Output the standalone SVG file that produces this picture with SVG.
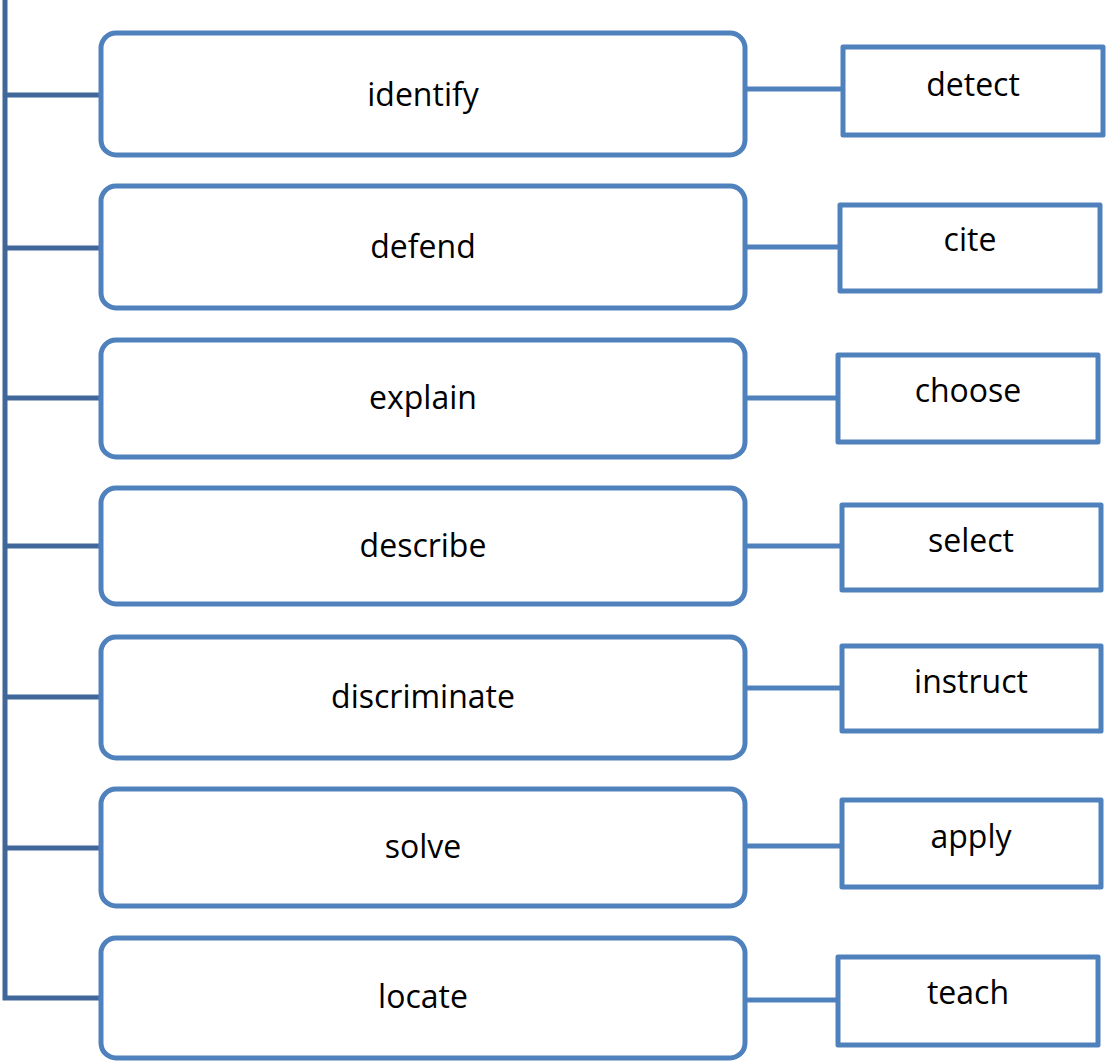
<svg xmlns="http://www.w3.org/2000/svg" width="1106" height="1061" viewBox="0 0 1106 1061">
  <style>
    .main { fill: #ffffff; stroke: #4f81bd; stroke-width: 5; }
    .leaf { fill: #ffffff; stroke: #4f81bd; stroke-width: 5; stroke-linejoin: round; }
    .trunk { fill: none; stroke: #41679a; stroke-width: 5; }
    .link { fill: none; stroke: #4f81bd; stroke-width: 5; }
    text { font-family: "Open Sans", "Liberation Sans", sans-serif; font-size: 32px; fill: #000000; text-anchor: middle; }
  </style>
  <rect width="1106" height="1061" fill="#ffffff"/>

  <!-- trunk and branches -->
  <g id="connectors">
    <path class="trunk" d="M5 0 V998 H101"/>
    <path class="trunk" d="M5 95 H101 M5 248 H101 M5 398 H101 M5 546 H101 M5 697 H101 M5 848 H101"/>
    <path class="link" d="M745 89 H843 M745 247 H840 M745 398 H838 M745 546 H842 M745 688 H842 M745 846 H842 M745 1000 H838"/>
  </g>

  <g id="identify"><rect class="main" x="101" y="33" width="644" height="122" rx="15"/><text x="423" y="106">identify</text></g>
  <g id="defend"><rect class="main" x="101" y="186" width="644" height="122" rx="15"/><text x="423" y="258">defend</text></g>
  <g id="explain"><rect class="main" x="101" y="340" width="644" height="117" rx="15"/><text x="423" y="409">explain</text></g>
  <g id="describe"><rect class="main" x="101" y="488" width="644" height="116" rx="15"/><text x="423" y="557">describe</text></g>
  <g id="discriminate"><rect class="main" x="101" y="637" width="644" height="121" rx="15"/><text x="423" y="708">discriminate</text></g>
  <g id="solve"><rect class="main" x="101" y="789" width="644" height="117" rx="15"/><text x="423" y="858">solve</text></g>
  <g id="locate"><rect class="main" x="101" y="938" width="644" height="120" rx="15"/><text x="423" y="1008">locate</text></g>

  <g id="detect"><rect class="leaf" x="843" y="47" width="260" height="88"/><text x="973" y="96">detect</text></g>
  <g id="cite"><rect class="leaf" x="840" y="205" width="260" height="86"/><text x="970" y="251">cite</text></g>
  <g id="choose"><rect class="leaf" x="838" y="355" width="260" height="87"/><text x="968" y="402">choose</text></g>
  <g id="select"><rect class="leaf" x="842" y="505" width="259" height="85"/><text x="971" y="552">select</text></g>
  <g id="instruct"><rect class="leaf" x="842" y="646" width="259" height="85"/><text x="971" y="693">instruct</text></g>
  <g id="apply"><rect class="leaf" x="842" y="800" width="259" height="87"/><text x="971" y="848">apply</text></g>
  <g id="teach"><rect class="leaf" x="838" y="957" width="260" height="88"/><text x="968" y="1004">teach</text></g>
</svg>
